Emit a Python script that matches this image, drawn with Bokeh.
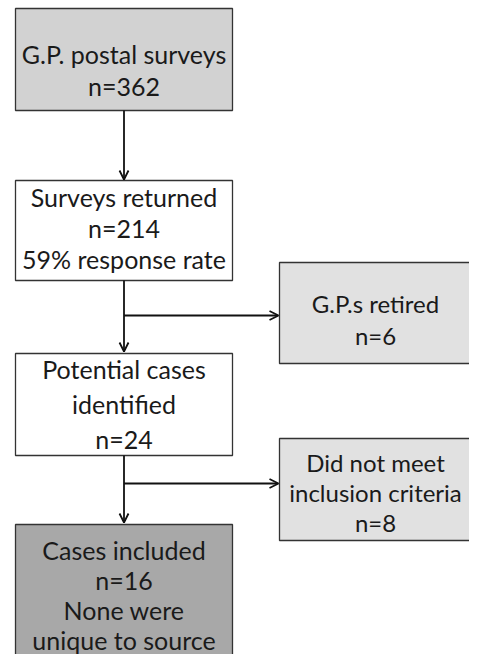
from bokeh.plotting import figure
from bokeh.models import Range1d, Arrow, OpenHead, ColumnDataSource
from bokeh.core.properties import value
from bokeh.embed import file_html
from bokeh.resources import INLINE

# ---- data ----
stages = ["G.P. postal surveys", "Surveys returned", "Potential cases\nidentified", "Cases included"]
stage_n = [362, 214, 24, 16]
stage_notes = ["", "59% response rate", "", "None were\nunique to source"]
exclusions = ["G.P.s retired", "Did not meet\ninclusion criteria"]
excl_n = [6, 8]

# ---- layout (pixel-like coordinates, y downwards) ----
main_x = (15, 232)
main_y = [(8, 110), (180, 280), (353, 455), (524, 720)]
main_fill = ["#d2d2d2", "#ffffff", "#ffffff", "#a8a8a8"]
main_first = [53, 196, 368, 549]
main_ls = [32, 31, 35, 30]
side_x = (279, 500)
side_y = [(262, 363), (438, 540)]
side_fill = ["#e1e1e1", "#e1e1e1"]
side_first = [303, 462]
side_ls = [32, 30]
side_cx = 375
FONT = "Lato"
FS_MAIN = "25px"
FS_SIDE = "24px"
W, H = 469, 654

p = figure(width=W, height=H, x_range=Range1d(0, W), y_range=Range1d(H, 0),
           output_backend="svg", toolbar_location=None, min_border=0)
p.axis.visible = False
p.grid.visible = False
p.outline_line_color = None
p.background_fill_color = "white"

def lines_for(label, n, note):
    out = label.split("\n") + [f"n={n}"]
    if note:
        out += note.split("\n")
    return out

mx, my, mt = [], [], []
cx = (main_x[0] + main_x[1]) / 2
for i in range(len(stages)):
    p.quad(left=main_x[0], right=main_x[1], top=main_y[i][0], bottom=main_y[i][1],
           fill_color=main_fill[i], line_color="#333333", line_width=1.3)
    for k, t in enumerate(lines_for(stages[i], stage_n[i], stage_notes[i])):
        mx.append(cx); my.append(main_first[i] + k * main_ls[i]); mt.append(t)

sx, sy, st = [], [], []
for i in range(len(exclusions)):
    p.quad(left=side_x[0], right=side_x[1], top=side_y[i][0], bottom=side_y[i][1],
           fill_color=side_fill[i], line_color="#333333", line_width=1.3)
    for k, t in enumerate(lines_for(exclusions[i], excl_n[i], "")):
        sx.append(side_cx); sy.append(side_first[i] + k * side_ls[i]); st.append(t)

p.text(x="x", y="y", text="text", source=ColumnDataSource(dict(x=mx, y=my, text=mt)),
       text_align="center", text_baseline="middle",
       text_font=value(FONT), text_font_size=FS_MAIN, text_color="#1a1a1a")
p.text(x="x", y="y", text="text", source=ColumnDataSource(dict(x=sx, y=sy, text=st)),
       text_align="center", text_baseline="middle",
       text_font=value(FONT), text_font_size=FS_SIDE, text_color="#1a1a1a")

# arrows
head = dict(size=9, line_width=1.8, line_color="#111111")
for (a, b) in [(main_y[0][1], main_y[1][0] - 1), (main_y[1][1], main_y[2][0] - 2), (main_y[2][1], main_y[3][0] - 2)]:
    p.add_layout(Arrow(x_start=cx, y_start=a, x_end=cx, y_end=b, line_width=1.8,
                       line_color="#111111", end=OpenHead(**head)))
for yb in [315, 483]:
    p.add_layout(Arrow(x_start=cx, y_start=yb, x_end=side_x[0] - 1, y_end=yb, line_width=1.8,
                       line_color="#111111", end=OpenHead(**head)))

open("out.html", "w").write(file_html(p, INLINE))
